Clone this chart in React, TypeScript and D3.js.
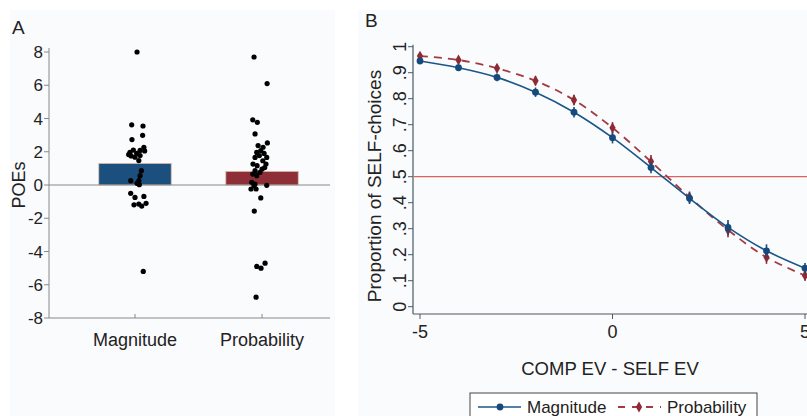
import React from "react";
import * as d3 from "d3";

// Panel A: bar means and individual POEs (x offset in category units, value)
const categories = ["Magnitude", "Probability"];
const barMeans = [1.3, 0.82];
const barColors = ["#1b4f7e", "#8e2f38"];
const poeTicks = [-8, -6, -4, -2, 0, 2, 4, 6, 8];

const magnitudeDots: [number, number][] = [
  [0.016, 8.0], [-0.026, 3.62], [0.063, 3.55], [-0.024, 2.73], [0.06, 2.99],
  [0.07, 2.27], [0.076, 2.05], [0.04, 2.08], [-0.04, 1.97], [-0.013, 2.1],
  [-0.05, 1.83], [0, 1.67], [0.03, 1.47], [0.04, 1.77], [0.013, 1.9],
  [-0.03, 1.75], [0.05, 0.86], [0.04, 0.56], [0.03, 0.26], [-0.034, 0.26],
  [0.034, 0.02], [0.016, 0.1], [-0.034, -0.5], [0, -0.75], [0.07, -0.69],
  [-0.008, -1.19], [0.053, -1.27], [0.087, -1.1], [0.03, -1.15], [0.065, -5.2],
];

const probabilityDots: [number, number][] = [
  [-0.063, 7.7], [0.04, 6.1], [-0.073, 3.92], [-0.037, 3.77], [-0.055, 3.07],
  [0.042, 2.53], [-0.031, 2.37], [0.008, 2.27], [-0.042, 1.96], [-0.01, 2.07],
  [0.016, 1.9], [-0.055, 1.66], [-0.021, 1.77], [0.037, 1.66], [0.006, 1.46],
  [0.031, 1.26], [-0.071, 1.26], [-0.039, 1.16], [0, 0.96], [-0.055, 0.86],
  [-0.016, 0.76], [-0.073, 0.66], [-0.042, 0.56], [0.021, 1.05], [-0.081, 0.16],
  [-0.063, -0.04], [-0.047, -0.24], [-0.087, -0.24], [0.037, -0.02], [-0.055, 0.06],
  [-0.01, -0.78], [-0.061, -1.57], [-0.042, -4.9], [-0.008, -5.0], [0.024, -4.7],
  [-0.047, -6.75],
];

// Panel B: proportion of SELF-choices by EV difference
const evDiff = [-5, -4, -3, -2, -1, 0, 1, 2, 3, 4, 5];
const magnitudeProp = [0.945, 0.919, 0.882, 0.825, 0.748, 0.65, 0.535, 0.417, 0.305, 0.215, 0.148];
const magnitudeErr = [0.012, 0.012, 0.015, 0.018, 0.02, 0.022, 0.022, 0.022, 0.028, 0.025, 0.02];
const probabilityProp = [0.964, 0.949, 0.917, 0.869, 0.795, 0.688, 0.558, 0.421, 0.295, 0.19, 0.12];
const probabilityErr = [0.01, 0.012, 0.015, 0.018, 0.02, 0.022, 0.025, 0.022, 0.028, 0.025, 0.02];
const propTicks = [0, 0.1, 0.2, 0.3, 0.4, 0.5, 0.6, 0.7, 0.8, 0.9, 1];
const evTicks = [-5, 0, 5];

const FONT = "'Liberation Sans', Arial, Helvetica, sans-serif";
const BLUE = "#1b5688";
const BLUE_DOT = "#174a7c";
const RED = "#a33a42";
const RED_DOT = "#8e2a33";

function PanelA() {
  const x = d3.scaleLinear().domain([-0.677, 1.535]).range([49, 330]);
  const y = d3.scaleLinear().domain([-8, 8]).range([318, 52]);
  const barHalf = 0.285;
  const dots = [magnitudeDots, probabilityDots];
  return (
    <g>
      <text x={12} y={34} fontSize={19} fontFamily={FONT} fill="#222">A</text>
      <line x1={x.range()[0]} x2={x.range()[0]} y1={y(8) - 4} y2={y(-8)} stroke="#888" />
      <line x1={x.range()[0]} x2={x.range()[1]} y1={y(-8)} y2={y(-8)} stroke="#888" />
      {poeTicks.map((t) => (
        <g key={t}>
          <line x1={x.range()[0] - 5} x2={x.range()[0]} y1={y(t)} y2={y(t)} stroke="#888" />
          <text x={x.range()[0] - 6} y={y(t) + 6} textAnchor="end" fontSize={17} fontFamily={FONT} fill="#222">
            {t}
          </text>
        </g>
      ))}
      <text transform={`translate(25,${y(0)}) rotate(-90)`} textAnchor="middle" fontSize={18} fontFamily={FONT} fill="#222">
        POEs
      </text>
      {categories.map((c, i) => (
        <g key={c}>
          <rect
            x={x(i - barHalf)}
            width={x(i + barHalf) - x(i - barHalf)}
            y={y(barMeans[i])}
            height={y(0) - y(barMeans[i])}
            fill={barColors[i]}
            stroke="#dcbcae"
            strokeWidth={0.8}
          />
          <line x1={x(i)} x2={x(i)} y1={y(-8) - 4} y2={y(-8)} stroke="#888" />
          <text x={x(i)} y={346} textAnchor="middle" fontSize={18} fontFamily={FONT} fill="#222">
            {c}
          </text>
        </g>
      ))}
      <line x1={x.range()[0]} x2={x.range()[1]} y1={y(0)} y2={y(0)} stroke="#888" />
      {dots.map((set, i) =>
        set.map(([dx, v], j) => <circle key={`${i}-${j}`} cx={x(i + dx)} cy={y(v)} r={2.6} fill="#000" />)
      )}
    </g>
  );
}

function PanelB() {
  const x = d3.scaleLinear().domain([-5, 5]).range([420, 805]);
  const y = d3.scaleLinear().domain([0, 1]).range([306.7, 46.7]);
  const axisX = 413;
  const axisY = 314;
  const line = d3
    .line<number>()
    .x((_, i) => x(evDiff[i]))
    .curve(d3.curveCatmullRom);
  const diamond = d3.symbol().type(d3.symbolDiamond).size(34)() as string;
  return (
    <g>
      <text x={365} y={27} fontSize={19} fontFamily={FONT} fill="#222">B</text>
      <line x1={axisX} x2={axisX} y1={y(1) - 2} y2={axisY} stroke="#4a5a64" strokeWidth={1.2} />
      <line x1={axisX} x2={807} y1={axisY} y2={axisY} stroke="#4a5a64" strokeWidth={1.2} />
      {propTicks.map((t) => (
        <g key={t}>
          <line x1={axisX - 5} x2={axisX} y1={y(t)} y2={y(t)} stroke="#4a5a64" />
          <text
            transform={`translate(${axisX - 7},${y(t)}) rotate(-90)`}
            textAnchor="middle"
            fontSize={18}
            fontFamily={FONT}
            fill="#222"
          >
            {t === 0 ? "0" : t === 1 ? "1" : d3.format(".1f")(t).replace(/^0/, "")}
          </text>
        </g>
      ))}
      {evTicks.map((t) => (
        <g key={t}>
          <line x1={x(t)} x2={x(t)} y1={axisY} y2={axisY + 5} stroke="#4a5a64" />
          <text x={x(t)} y={338} textAnchor="middle" fontSize={18} fontFamily={FONT} fill="#222">
            {t}
          </text>
        </g>
      ))}
      <text transform={`translate(381,186) rotate(-90)`} textAnchor="middle" fontSize={19} fontFamily={FONT} fill="#222">
        Proportion of SELF-choices
      </text>
      <text x={610} y={375} textAnchor="middle" fontSize={18.5} fontFamily={FONT} fill="#222">
        COMP EV - SELF EV
      </text>
      <line x1={axisX + 1} x2={807} y1={y(0.5)} y2={y(0.5)} stroke="#e0605c" strokeWidth={1.3} />

      <path d={line.y((d) => y(d))(probabilityProp) ?? ""} fill="none" stroke={RED} strokeWidth={1.8} strokeDasharray="8,6" />
      <path d={line.y((d) => y(d))(magnitudeProp) ?? ""} fill="none" stroke={BLUE} strokeWidth={1.6} />

      {evDiff.map((e, i) => (
        <g key={`p${e}`}>
          <line x1={x(e)} x2={x(e)} y1={y(probabilityProp[i] - probabilityErr[i])} y2={y(probabilityProp[i] + probabilityErr[i])} stroke={RED_DOT} strokeWidth={1.6} />
          <path d={diamond} transform={`translate(${x(e)},${y(probabilityProp[i])})`} fill={RED_DOT} />
        </g>
      ))}
      {evDiff.map((e, i) => (
        <g key={`m${e}`}>
          <line x1={x(e)} x2={x(e)} y1={y(magnitudeProp[i] - magnitudeErr[i])} y2={y(magnitudeProp[i] + magnitudeErr[i])} stroke={BLUE_DOT} strokeWidth={1.6} />
          <circle cx={x(e)} cy={y(magnitudeProp[i])} r={3.4} fill={BLUE_DOT} />
        </g>
      ))}

      <g>
        <rect x={470} y={393} width={287} height={30} fill="#fff" stroke="#444" strokeWidth={1} />
        <line x1={478} x2={521} y1={407} y2={407} stroke={BLUE} strokeWidth={1.6} />
        <circle cx={500} cy={407} r={3.4} fill={BLUE_DOT} />
        <text x={527} y={413} fontSize={17} fontFamily={FONT} fill="#222">Magnitude</text>
        <line x1={617} x2={661} y1={407} y2={407} stroke={RED} strokeWidth={1.8} strokeDasharray="7,7" strokeDashoffset={-1} />
        <path d={diamond} transform="translate(639,407)" fill={RED_DOT} />
        <text x={667} y={413} fontSize={17} fontFamily={FONT} fill="#222">Probability</text>
      </g>
    </g>
  );
}

export default function App() {
  return (
    <svg width={807} height={416} style={{ position: "absolute", left: 0, top: 0, background: "#fff" }}>
      <rect x={10} y={10} width={325} height={406} fill="#fafbfd" />
      <rect x={358} y={10} width={449} height={406} fill="#fafbfd" />
      <PanelA />
      <PanelB />
    </svg>
  );
}
